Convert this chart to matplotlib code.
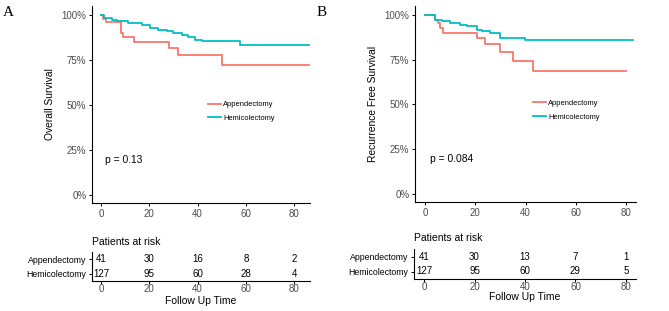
import matplotlib
matplotlib.use("Agg")
import matplotlib.pyplot as plt
from matplotlib.ticker import FuncFormatter

plt.rcParams['font.family'] = ['Liberation Sans', 'DejaVu Sans']

RED = '#F8766D'
TEAL = '#00BFC4'
GREY = '#4D4D4D'

groups = ["Appendectomy", "Hemicolectomy"]

# panel A: overall survival (step times and survival values)
os_app_t = [0, 1, 2, 8.3, 9.3, 13.8, 28, 32, 50, 86]
os_app_s = [1.0, 0.976, 0.961, 0.900, 0.876, 0.852, 0.817, 0.780, 0.720, 0.720]
os_hem_t = [0, 1.4, 4.4, 6.5, 11.3, 16.9, 20.3, 23.8, 27.2, 30, 33.5, 36.2, 39, 41.8, 57.4, 86]
os_hem_s = [1.0, 0.983, 0.974, 0.965, 0.956, 0.943, 0.928, 0.919, 0.909, 0.900, 0.891, 0.876,
            0.863, 0.857, 0.832, 0.832]

# panel B: recurrence free survival
rfs_app_t = [0, 4, 5, 6, 7, 20.6, 23.9, 29.9, 34.9, 42.8, 80]
rfs_app_s = [1.0, 0.970, 0.953, 0.926, 0.898, 0.870, 0.836, 0.795, 0.745, 0.686, 0.686]
rfs_hem_t = [0, 4, 6.6, 10, 14, 16.6, 20.6, 22.5, 25.9, 29.8, 39.8, 82.9]
rfs_hem_s = [1.0, 0.974, 0.966, 0.955, 0.946, 0.937, 0.918, 0.909, 0.900, 0.873, 0.858, 0.858]

risk_times = [0, 20, 40, 60, 80]
os_risk_app = [41, 30, 16, 8, 2]
os_risk_hem = [127, 95, 60, 28, 4]
rfs_risk_app = [41, 30, 13, 7, 1]
rfs_risk_hem = [127, 95, 60, 29, 5]

fig = plt.figure(figsize=(6.69, 3.11), dpi=100, facecolor='white')
W, H = 669.0, 311.0


def box(l, r, t, b):
    return [l / W, 1 - b / H, (r - l) / W, (b - t) / H]


def style(ax):
    for s in ['top', 'right']:
        ax.spines[s].set_visible(False)
    for s in ['left', 'bottom']:
        ax.spines[s].set_linewidth(0.8)
    ax.tick_params(length=2.5, width=0.7, labelsize=7, labelcolor=GREY, pad=1.5)


def panel(main_box, risk_box, xlim, curves, ylabel, pval, risk, title_y, xlabel_y, letter, letter_x,
          leg_anchor):
    ax = fig.add_axes(box(*main_box))
    style(ax)
    for (t, s), c, g in zip(curves, [RED, TEAL], groups):
        ax.step(t, s, where='post', color=c, lw=1.3, label=g)
    ax.set_xlim(*xlim)
    ax.set_ylim(-0.045, 1.05)
    ax.set_yticks([0, 0.25, 0.5, 0.75, 1.0])
    ax.yaxis.set_major_formatter(FuncFormatter(lambda v, p: f"{int(round(v * 100))}%"))
    ax.set_xticks(risk_times)
    ax.set_ylabel(ylabel, fontsize=7.4, labelpad=5)
    ax.text(1.8, 0.195, pval, fontsize=7.4, va='center', ha='left')
    ax.legend(loc='center left', bbox_to_anchor=leg_anchor, frameon=False, fontsize=5.4,
              handlelength=1.8, handletextpad=0.3, labelspacing=0.85, borderpad=0)

    rx = fig.add_axes(box(*risk_box))
    style(rx)
    rx.set_xlim(*xlim)
    rx.set_ylim(-0.5, 1.5)
    rx.set_xticks(risk_times)
    rx.tick_params(axis='x', length=2, pad=0.5, labelsize=7)
    rx.set_yticks([1, 0])
    rx.set_yticklabels(groups, fontsize=6.3, color='black')
    rx.tick_params(axis='y', labelcolor='black')
    for row, vals in zip([1, 0], risk):
        for t, v in zip(risk_times, vals):
            rx.text(t, row, str(v), ha='center', va='center', fontsize=7, color='black')
    fig.text(risk_box[0] / W, 1 - title_y / H, "Patients at risk", fontsize=7.5, va='center', ha='left')
    fig.text((risk_box[0] + risk_box[1]) / 2 / W, 1 - xlabel_y / H, "Follow Up Time", fontsize=7.5,
             va='center', ha='center')
    fig.text(letter_x / W, 1 - 13 / H, letter, fontsize=11, family='Liberation Serif',
             va='center', ha='left')


panel((92, 310, 6, 203), (92, 310, 252, 281), (-3.75, 86.6),
      [(os_app_t, os_app_s), (os_hem_t, os_hem_s)], "Overall Survival", "p = 0.13",
      [os_risk_app, os_risk_hem], 242, 300.5, "A", 3, (0.513, 0.464))

panel((415, 636, 6, 202), (414, 636, 249, 279), (-4.0, 84.0),
      [(rfs_app_t, rfs_app_s), (rfs_hem_t, rfs_hem_s)], "Recurrence Free Survival", "p = 0.084",
      [rfs_risk_app, rfs_risk_hem], 238, 297.5, "B", 317, (0.515, 0.468))

plt.savefig("out.png", dpi=100, facecolor='white')
plt.close(fig)
